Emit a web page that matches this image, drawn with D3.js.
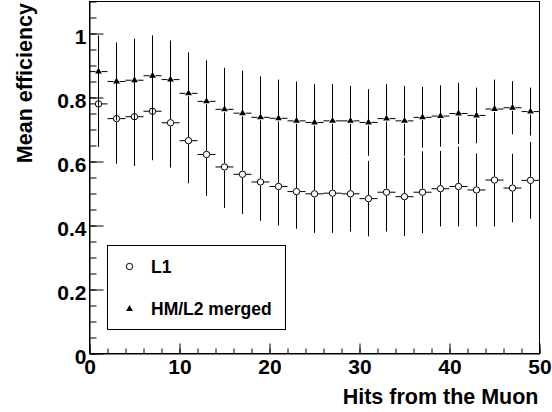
<!DOCTYPE html>
<html>
<head>
<meta charset="utf-8">
<script src="https://cdn.jsdelivr.net/npm/d3@7"></script>
<style>
  html, body { margin: 0; padding: 0; background: #fff; }
  svg { display: block; }
  text { font-family: "Liberation Sans", Arial, Helvetica, sans-serif; font-weight: bold; fill: #000; }
</style>
</head>
<body>
<script>
// Bin centres (hits from the muon, bins of width 2)
const hits = [1, 3, 5, 7, 9, 11, 13, 15, 17, 19, 21, 23, 25, 27, 29, 31, 33, 35, 37, 39, 41, 43, 45, 47, 49];

// L1 mean efficiency and its error
const l1Eff = [0.780, 0.734, 0.740, 0.757, 0.721, 0.665, 0.622, 0.583, 0.560, 0.536, 0.522, 0.506, 0.499,
               0.501, 0.499, 0.484, 0.504, 0.490, 0.504, 0.515, 0.522, 0.511, 0.542, 0.517, 0.541];
const l1Err = [0.135, 0.141, 0.154, 0.153, 0.140, 0.133, 0.129, 0.128, 0.124, 0.121, 0.122, 0.116, 0.122,
               0.124, 0.118, 0.118, 0.123, 0.123, 0.128, 0.118, 0.125, 0.114, 0.145, 0.107, 0.120];

// HM/L2 merged mean efficiency and its error
const hmEff = [0.881, 0.850, 0.854, 0.868, 0.856, 0.813, 0.788, 0.763, 0.751, 0.738, 0.735, 0.727, 0.722,
               0.727, 0.727, 0.722, 0.734, 0.727, 0.738, 0.742, 0.750, 0.744, 0.764, 0.768, 0.756];
const hmErr = [0.113, 0.122, 0.130, 0.126, 0.122, 0.128, 0.128, 0.130, 0.133, 0.128, 0.121, 0.123, 0.120,
               0.115, 0.109, 0.104, 0.108, 0.109, 0.095, 0.096, 0.096, 0.087, 0.092, 0.083, 0.075];

const binHalfWidth = 1;
const xMajorTicks = [0, 10, 20, 30, 40, 50];
const yMajorTicks = [0, 0.2, 0.4, 0.6, 0.8, 1];
const yTickLabels = ["0", "0.2", "0.4", "0.6", "0.8", "1"];
const seriesNames = ["L1", "HM/L2 merged"];
const xTitle = "Hits from the Muon";
const yTitle = "Mean efficiency";

const W = 552, H = 412;
const svg = d3.select("body").append("svg").attr("width", W).attr("height", H);
svg.append("rect").attr("width", W).attr("height", H).attr("fill", "#fff");

const x = d3.scaleLinear().domain([0, 50]).range([89.5, 539.5]);
const y = d3.scaleLinear().domain([0, 1.1]).range([353.5, 1.5]);

const fontSize = 21;
const titleSize = 21.5;

// frame
svg.append("rect")
  .attr("x", x(0)).attr("y", y(1.1))
  .attr("width", x(50) - x(0)).attr("height", y(0) - y(1.1))
  .attr("fill", "none").attr("stroke", "#000").attr("stroke-width", 1);

// x axis: minor ticks then major ticks + labels
const xMinor = d3.range(0, 50.001, 2);
svg.append("g").attr("transform", `translate(0,${y(0)})`)
  .call(d3.axisBottom(x).tickValues(xMinor).tickFormat("").tickSizeInner(-5).tickSizeOuter(0))
  .call(g => g.select(".domain").remove());
const gx = svg.append("g").attr("transform", `translate(0,${y(0)})`)
  .call(d3.axisBottom(x).tickValues(xMajorTicks).tickFormat(d3.format("d")).tickSizeInner(-10).tickSizeOuter(0).tickPadding(6));
gx.select(".domain").attr("stroke", "#000");
gx.selectAll("text").attr("font-size", fontSize);
gx.attr("font-family", null).attr("font-size", null);

// y axis
const yMinor = d3.range(0, 1.1001, 0.05);
svg.append("g").attr("transform", `translate(${x(0)},0)`)
  .call(d3.axisLeft(y).tickValues(yMinor).tickFormat("").tickSizeInner(-7).tickSizeOuter(0))
  .call(g => g.select(".domain").remove());
const gy = svg.append("g").attr("transform", `translate(${x(0)},0)`)
  .call(d3.axisLeft(y).tickValues(yMajorTicks).tickFormat((d, i) => yTickLabels[i]).tickSizeInner(-14).tickSizeOuter(0).tickPadding(3));
gy.select(".domain").attr("stroke", "#000");
gy.selectAll("text").attr("font-size", fontSize).attr("dy", "0.48em");
gy.attr("font-family", null).attr("font-size", null);

// axis titles
svg.append("text")
  .attr("x", x(50) - 1).attr("y", 404)
  .attr("text-anchor", "end").attr("font-size", titleSize)
  .text(xTitle);
svg.append("text")
  .attr("transform", `translate(32,3) rotate(-90)`)
  .attr("text-anchor", "end").attr("font-size", titleSize)
  .text(yTitle);

// error bars with gaps around the markers
const plot = svg.append("g");
function drawSeries(vals, errs, gap, marker) {
  const g = plot.append("g");
  hits.forEach((h, i) => {
    const cx = x(h), cy = y(vals[i]);
    const segs = [
      [x(h - binHalfWidth), cy, cx - gap, cy],
      [cx + gap, cy, x(h + binHalfWidth), cy],
      [cx, y(vals[i] + errs[i]), cx, cy - gap],
      [cx, cy + gap, cx, y(vals[i] - errs[i])]
    ];
    segs.forEach(s => {
      g.append("line")
        .attr("x1", s[0]).attr("y1", s[1]).attr("x2", s[2]).attr("y2", s[3])
        .attr("stroke", "#000").attr("stroke-width", 1);
    });
    marker(g, cx, cy);
  });
}

const circleMarker = (g, cx, cy) => g.append("circle")
  .attr("cx", cx).attr("cy", cy).attr("r", 3.2)
  .attr("fill", "#fff").attr("stroke", "#000").attr("stroke-width", 1);
const triPath = d3.symbol(d3.symbolTriangle, 20)();
const triangleMarker = (g, cx, cy) => g.append("path")
  .attr("d", triPath).attr("transform", `translate(${cx},${cy})`)
  .attr("fill", "#000");

drawSeries(l1Eff, l1Err, 3.5, circleMarker);
drawSeries(hmEff, hmErr, 3, triangleMarker);

// legend
const leg = svg.append("g");
leg.append("rect")
  .attr("x", 107.5).attr("y", 245.5).attr("width", 178).attr("height", 84)
  .attr("fill", "#fff").attr("stroke", "#000").attr("stroke-width", 1);
circleMarker(leg, 129.5, 266.5);
triangleMarker(leg, 129.5, 309);
leg.append("text").attr("x", 151).attr("y", 273).attr("font-size", 17.5).text(seriesNames[0]);
leg.append("text").attr("x", 151).attr("y", 315).attr("font-size", 17.5).text(seriesNames[1]);
</script>
</body>
</html>
